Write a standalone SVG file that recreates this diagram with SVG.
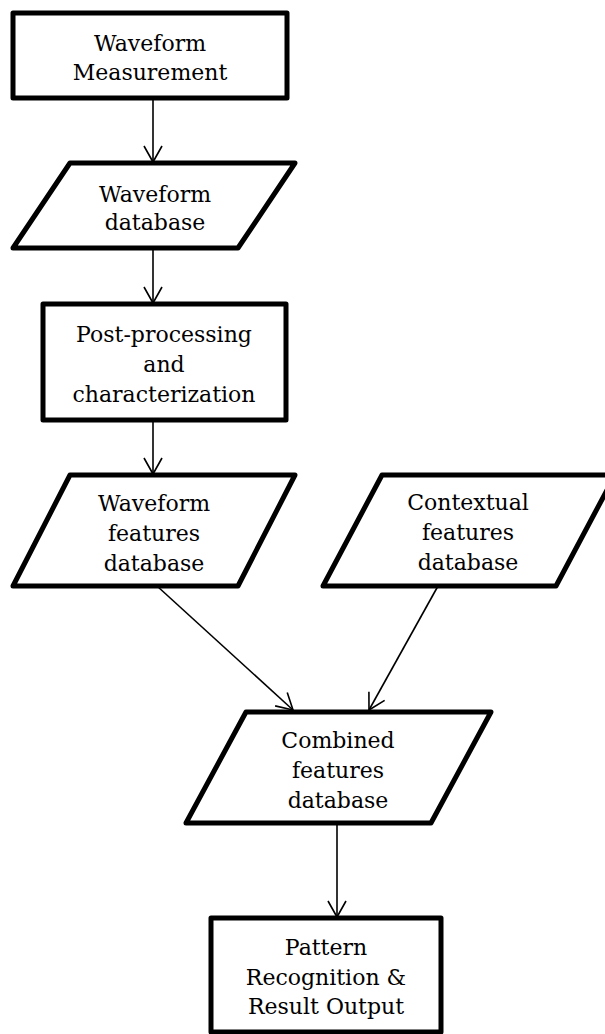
<svg xmlns="http://www.w3.org/2000/svg" width="605" height="1034" viewBox="0 0 605 1034">
  <defs>
    <marker id="arrow" markerUnits="userSpaceOnUse" markerWidth="24" markerHeight="24" viewBox="-20 -12 24 24" refX="0" refY="0" orient="auto" overflow="visible">
      <path d="M -16 -9 L 0 0 L -16 9" fill="none" stroke="#000" stroke-width="1.6"/>
    </marker>
  </defs>
  <style>
    .shape { fill: #fff; stroke: #000; stroke-width: 5; stroke-linejoin: round; }
    .conn { fill: none; stroke: #000; stroke-width: 1.6; marker-end: url(#arrow); }
    .lbl { font-family: "DejaVu Serif", "Liberation Serif", serif; font-size: 22px; fill: #000; text-anchor: middle; }
  </style>
  <rect width="605" height="1034" fill="#fff"/>

  <g id="connectors">
    <line class="conn" x1="153" y1="98" x2="153" y2="162"/>
    <line class="conn" x1="153" y1="248" x2="153" y2="303"/>
    <line class="conn" x1="153" y1="420" x2="153" y2="474"/>
    <line class="conn" x1="157" y1="586" x2="293" y2="710"/>
    <line class="conn" x1="438" y1="586" x2="369" y2="710"/>
    <line class="conn" x1="337" y1="823" x2="337" y2="917"/>
  </g>

  <g id="waveform-measurement">
    <rect class="shape" x="13" y="13" width="274" height="85"/>
    <text class="lbl" x="150" y="51">Waveform</text>
    <text class="lbl" x="150" y="80">Measurement</text>
  </g>

  <g id="waveform-database">
    <polygon class="shape" points="70,163 295,163 238,248 13,248"/>
    <text class="lbl" x="155" y="202">Waveform</text>
    <text class="lbl" x="155" y="230">database</text>
  </g>

  <g id="post-processing">
    <rect class="shape" x="43" y="304" width="243" height="116"/>
    <text class="lbl" x="164" y="342">Post-processing</text>
    <text class="lbl" x="164" y="372">and</text>
    <text class="lbl" x="164" y="402">characterization</text>
  </g>

  <g id="waveform-features-database">
    <polygon class="shape" points="70,475 295,475 238,586 13,586"/>
    <text class="lbl" x="154" y="511">Waveform</text>
    <text class="lbl" x="154" y="541">features</text>
    <text class="lbl" x="154" y="571">database</text>
  </g>

  <g id="contextual-features-database">
    <polygon class="shape" points="382,475 615,475 556,586 323,586"/>
    <text class="lbl" x="468" y="510">Contextual</text>
    <text class="lbl" x="468" y="540">features</text>
    <text class="lbl" x="468" y="570">database</text>
  </g>

  <g id="combined-features-database">
    <polygon class="shape" points="246,712 491,712 431,823 186,823"/>
    <text class="lbl" x="338" y="748">Combined</text>
    <text class="lbl" x="338" y="778">features</text>
    <text class="lbl" x="338" y="808">database</text>
  </g>

  <g id="pattern-recognition">
    <rect class="shape" x="211" y="918" width="230" height="114"/>
    <text class="lbl" x="326" y="955">Pattern</text>
    <text class="lbl" x="326" y="985">Recognition &amp;</text>
    <text class="lbl" x="326" y="1014">Result Output</text>
  </g>
</svg>
